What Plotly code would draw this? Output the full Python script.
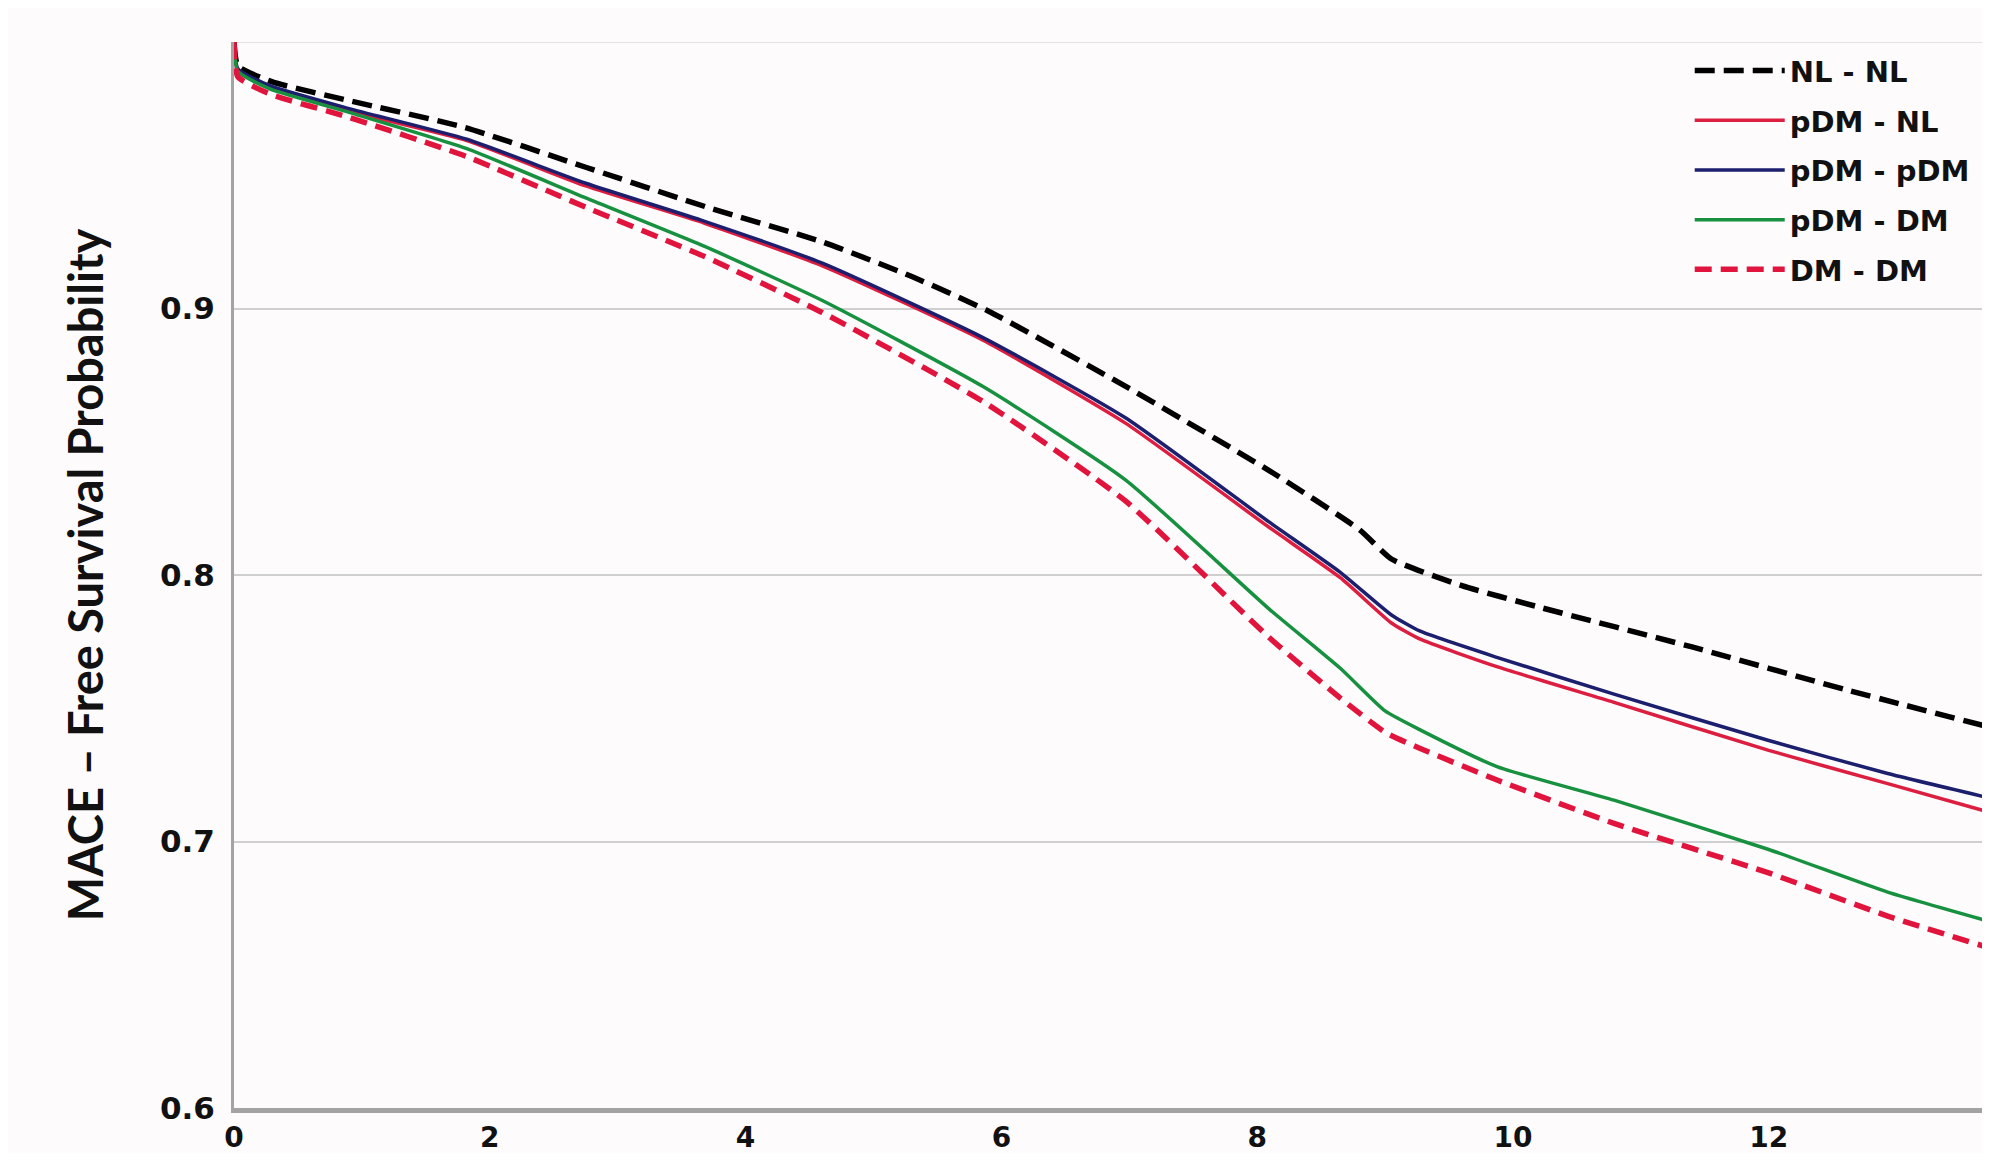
import plotly.graph_objects as go

# ---- data ----
years_nl_nl = [0, 0.03, 0.3, 0.9, 1.8, 2.75, 3.7, 4.6, 5.3, 5.9, 7.0, 8.1, 8.8, 9.05, 9.6, 10.2, 11.4, 12.6, 13.8]
surv_nl_nl = [1.0, 0.991, 0.985, 0.978, 0.968, 0.953, 0.938, 0.925, 0.912, 0.899, 0.870, 0.839, 0.817, 0.806, 0.796, 0.788, 0.773, 0.757, 0.742]

years_pdm_pdm = [0, 0.03, 0.28, 0.9, 1.82, 2.75, 3.68, 4.6, 5.86, 6.97, 8.09, 8.65, 9.05, 9.27, 9.88, 10.79, 12.0, 12.93, 13.8]
surv_pdm_pdm = [1.0, 0.990, 0.9836, 0.975, 0.9635, 0.947, 0.9327, 0.917, 0.889, 0.859, 0.820, 0.801, 0.785, 0.779, 0.769, 0.7553, 0.7379, 0.7255, 0.7155]

years_pdm_nl = [0, 0.03, 0.28, 0.9, 1.82, 2.75, 3.68, 4.6, 5.86, 6.97, 8.09, 8.65, 9.05, 9.27, 9.88, 10.79, 12.0, 12.93, 13.8]
surv_pdm_nl = [1.0, 0.989, 0.983, 0.974, 0.963, 0.946, 0.932, 0.916, 0.888, 0.857, 0.818, 0.799, 0.782, 0.776, 0.7655, 0.7522, 0.7342, 0.7217, 0.710]

years_pdm_dm = [0, 0.03, 0.28, 0.9, 1.82, 2.75, 3.68, 4.6, 5.86, 6.97, 8.09, 8.65, 9.0, 9.27, 9.88, 10.79, 12.0, 12.93, 13.8]
surv_pdm_dm = [1.0, 0.989, 0.9824, 0.9736, 0.960, 0.9415, 0.9233, 0.9030, 0.8706, 0.8357, 0.7874, 0.765, 0.749, 0.742, 0.728, 0.7155, 0.697, 0.681, 0.669]

years_dm_dm = [0, 0.03, 0.28, 0.9, 1.82, 2.75, 3.68, 4.6, 5.86, 6.97, 8.09, 8.65, 9.0, 9.27, 9.88, 10.79, 12.0, 12.93, 13.8]
surv_dm_dm = [1.0, 0.987, 0.9805, 0.9717, 0.957, 0.938, 0.9195, 0.8985, 0.865, 0.8278, 0.7767, 0.7538, 0.741, 0.735, 0.723, 0.7068, 0.6882, 0.672, 0.659]

x_tick_vals = [0, 2, 4, 6, 8, 10, 12]
x_tick_text = ["0", "2", "4", "6", "8", "10", "12"]
y_tick_vals = [0.6, 0.7, 0.8, 0.9]
y_tick_text = ["0.6", "0.7", "0.8", "0.9"]

series = [
    ("NL - NL", years_nl_nl, surv_nl_nl, "#000000", "20px,9px", 5.5),
    ("pDM - NL", years_pdm_nl, surv_pdm_nl, "#DC1E40", "solid", 3.5),
    ("pDM - pDM", years_pdm_pdm, surv_pdm_pdm, "#1B1F6E", "solid", 3.5),
    ("pDM - DM", years_pdm_dm, surv_pdm_dm, "#17913F", "solid", 3.5),
    ("DM - DM", years_dm_dm, surv_dm_dm, "#E0143C", "17px,9px", 5.5),
]

BG = "#fdfbfc"
TICKFONT = dict(family="DejaVu Sans", size=31, color="#111111", weight="bold")
XTICKFONT = dict(family="DejaVu Sans", size=28, color="#111111", weight="bold")

fig = go.Figure()
for name, xs, ys, col, dash, w in series:
    fig.add_trace(go.Scatter(
        x=xs, y=ys, mode="lines", name=name, legendgroup=name,
        line=dict(color=col, width=w, dash=dash, shape="spline", smoothing=0.5),
    ))

fig.update_layout(
    template="none",
    width=1990, height=1153,
    paper_bgcolor=BG, plot_bgcolor=BG,
    margin=dict(l=226, r=8, t=34, b=53, autoexpand=False),
    showlegend=True,
    legend=dict(
        x=0.829, y=0.997, xanchor="left", yanchor="top",
        bgcolor="rgba(0,0,0,0)",
        font=dict(family="DejaVu Sans", size=29, color="#111111", weight="bold"),
        itemwidth=90, tracegroupgap=9,
    ),
    xaxis=dict(
        range=[0, 13.73], tickvals=x_tick_vals, ticktext=x_tick_text,
        showgrid=False, zeroline=False, automargin=False,
        showline=True, linecolor="#a3a3a3", linewidth=5,
        tickfont=XTICKFONT, ticks="", ticklabelstandoff=0,
    ),
    yaxis=dict(
        range=[0.6, 1.0], tickvals=y_tick_vals, ticktext=y_tick_text,
        showgrid=True, gridcolor="#cfcfcf", gridwidth=2, zeroline=False, automargin=False,
        showline=True, linecolor="#a3a3a3", linewidth=3,
        tickfont=TICKFONT, ticks="", ticklabelstandoff=10,
        title=dict(text="MACE – Free Survival Probability",
                   font=dict(family="Lato", size=47, color="#111111", weight="bold"),
                   standoff=42),
    ),
    shapes=[dict(type="line", xref="paper", yref="y", x0=0, x1=1, y0=1.0, y1=1.0,
                 line=dict(color="#e2e2e2", width=2), layer="below")],
)

fig.write_html("out.html")
